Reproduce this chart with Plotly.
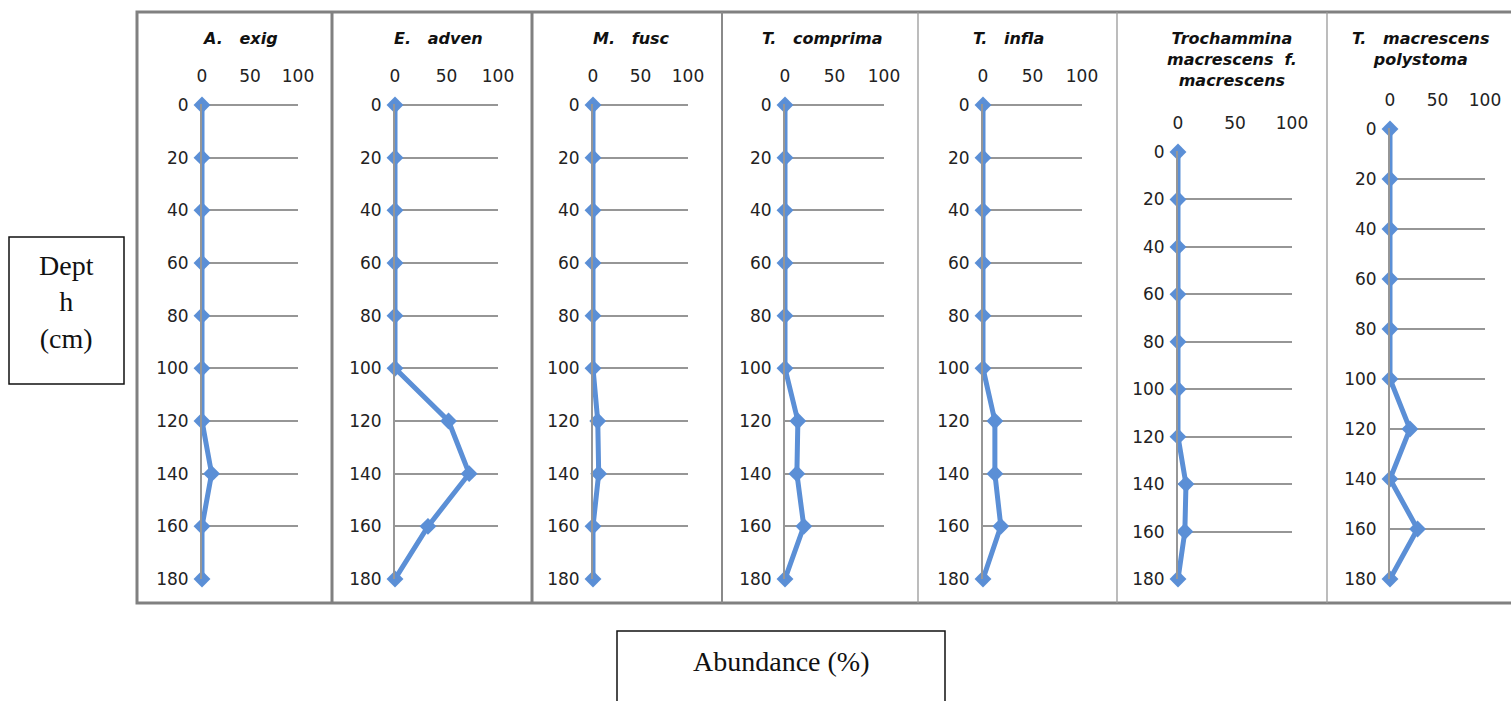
import plotly.graph_objects as go

# ---------------- data ----------------
depths = [0, 20, 40, 60, 80, 100, 120, 140, 160, 180]
titles = [
    "A.   exig",
    "E.   adven",
    "M.   fusc",
    "T.   comprima",
    "T.   infla",
    "Trochammina<br>macrescens  f.<br>macrescens",
    "T.   macrescens<br>polystoma",
]
a_exigua = [0, 0, 0, 0, 0, 0, 0, 10, 0, 0]
e_advena = [0, 0, 0, 0, 0, 0, 52, 72, 32, 0]
m_fusca = [0, 0, 0, 0, 0, 0, 5, 6, 0, 0]
t_comprimata = [0, 0, 0, 0, 0, 0, 13, 12, 19, 0]
t_inflata = [0, 0, 0, 0, 0, 0, 12, 12, 18, 0]
t_macrescens_f = [0, 0, 0, 0, 0, 0, 0, 7, 6, 0]
t_macrescens_poly = [0, 0, 0, 0, 0, 0, 21, 0, 29, 0]
series = [a_exigua, e_advena, m_fusca, t_comprimata, t_inflata,
          t_macrescens_f, t_macrescens_poly]
x_ticks = [0, 50, 100]
y_ticks = depths

# ---------------- layout geometry (pixels of the 1511x701 page) ----------------
W, H = 1511, 701
panel_x = [(202, 298), (395, 498), (593, 688), (785, 884), (983, 1082),
           (1178, 1292), (1390, 1485)]
panel_y = [(105, 579)] * 5 + [(152, 579), (129, 579)]
title_x = [240, 438, 631, 822, 1008, 1232, 1420]
title_y = 27
Y_TOP = -0.4                 # tiny pad so the 0 gridline is drawn


def px(x):
    return x / W


def py(y):
    return 1 - y / H


BLUE = "#5b8fd6"
GRID = "#969696"
TICKFONT = dict(family="DejaVu Sans, Verdana, sans-serif", size=17, color="#222")

fig = go.Figure()
layout = dict(
    width=W, height=H,
    margin=dict(l=0, r=0, t=0, b=0, pad=0, autoexpand=False),
    paper_bgcolor="white", plot_bgcolor="rgba(0,0,0,0)",
    showlegend=False,
)

for i, vals in enumerate(series):
    n = "" if i == 0 else str(i + 1)
    fig.add_trace(go.Scatter(
        x=vals, y=depths, xaxis="x" + n, yaxis="y" + n,
        mode="lines+markers",
        line=dict(color=BLUE, width=5),
        marker=dict(symbol="diamond", size=13, color=BLUE),
        cliponaxis=False,
    ))
    x0, x1 = panel_x[i]
    y0, y1 = panel_y[i]
    ytop_pix = y0 + (Y_TOP - 0) * (y1 - y0) / 180.0
    layout["xaxis" + n] = dict(
        domain=[px(x0), px(x1)], range=[0, 100], anchor="y" + n,
        side="top", tickvals=x_ticks, ticks="", showgrid=False,
        zeroline=False, showline=False, tickfont=TICKFONT,
        ticklabelstandoff=18, fixedrange=True, automargin=False,
    )
    layout["yaxis" + n] = dict(
        domain=[py(y1), py(ytop_pix)], range=[180, Y_TOP], anchor="x" + n,
        tickvals=y_ticks, ticks="", showgrid=True, gridcolor=GRID,
        gridwidth=2, zeroline=False, showline=True, linecolor=GRID,
        linewidth=2, tickfont=TICKFONT, ticklabelstandoff=8,
        fixedrange=True, automargin=False,
    )

fig.update_layout(**layout)

annotations = []
for i, t in enumerate(titles):
    annotations.append(dict(
        x=px(title_x[i]), y=py(title_y), xref="paper", yref="paper",
        xanchor="center", yanchor="top", showarrow=False,
        text="<b><i>" + t + "</i></b>",
        font=dict(family="DejaVu Sans, Verdana, sans-serif", size=16, color="#111"),
    ))
annotations.append(dict(
    x=px(66), y=py(302), xref="paper", yref="paper", showarrow=False,
    xanchor="center", yanchor="middle",
    text="Dept<br>h<br>(cm)", align="center",
    font=dict(family="Liberation Serif, Times New Roman, serif", size=28, color="#111"),
))
annotations.append(dict(
    x=px(781), y=py(661), xref="paper", yref="paper", showarrow=False,
    xanchor="center", yanchor="middle",
    text="Abundance (%)",
    font=dict(family="Liberation Serif, Times New Roman, serif", size=28, color="#111"),
))

shapes = [
    # outer frame
    dict(type="rect", xref="paper", yref="paper", x0=px(137), x1=px(1520),
         y0=py(603), y1=py(12), line=dict(color="#808080", width=3)),
    # depth label box
    dict(type="rect", xref="paper", yref="paper", x0=px(9), x1=px(124),
         y0=py(384), y1=py(237), line=dict(color="#111", width=1.5)),
    # abundance label box
    dict(type="rect", xref="paper", yref="paper", x0=px(617), x1=px(945),
         y0=py(710), y1=py(631), line=dict(color="#111", width=1.5)),
]
dividers = [(332, 3, "#808080"), (532, 3, "#808080"), (722, 2, "#8a8a8a"),
            (918, 1.3, "#999"), (1117, 1.3, "#999"), (1327, 1.3, "#999")]
for xpix, w, c in dividers:
    shapes.append(dict(type="line", xref="paper", yref="paper",
                       x0=px(xpix), x1=px(xpix), y0=py(603), y1=py(12),
                       line=dict(color=c, width=w)))

fig.update_layout(annotations=annotations, shapes=shapes)
fig.write_html(
    "out.html",
    config={"displayModeBar": False},
    post_script="document.body.style.margin='0';document.body.style.overflow='hidden';",
)
